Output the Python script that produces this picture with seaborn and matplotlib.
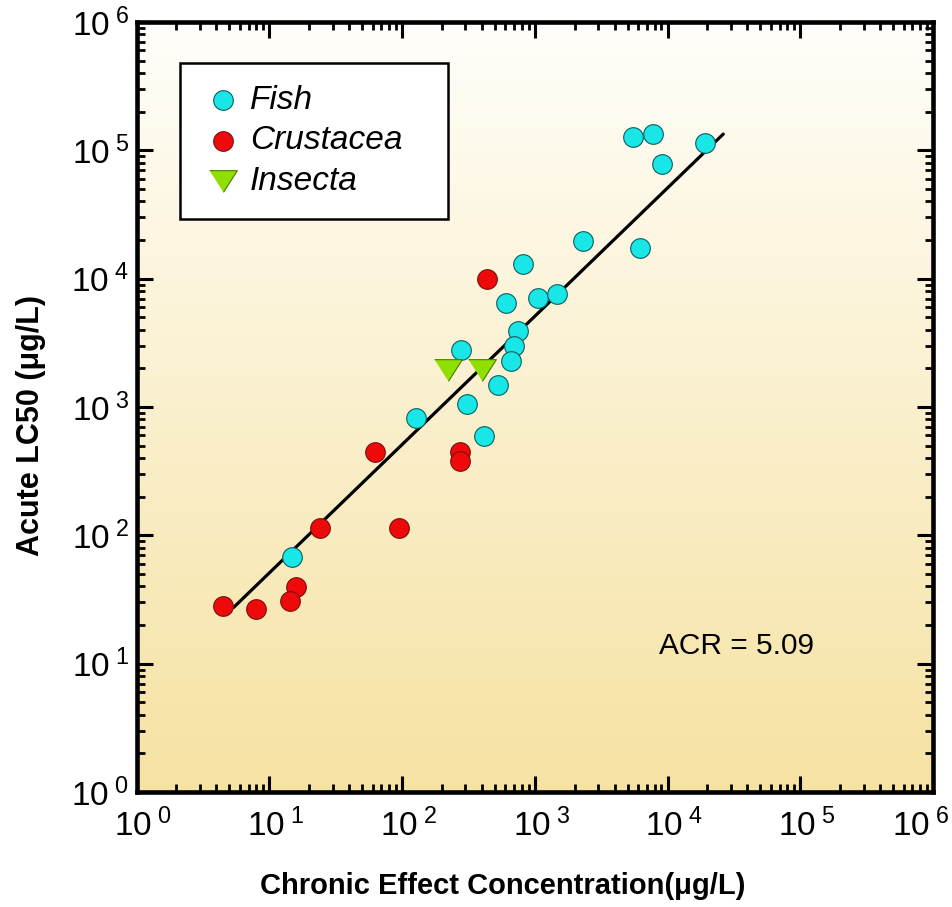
import numpy as np
import pandas as pd
import matplotlib
matplotlib.use("Agg")
import matplotlib.pyplot as plt
from matplotlib.ticker import FixedLocator, NullFormatter, FuncFormatter
from matplotlib.transforms import ScaledTranslation
import seaborn as sns

# ---------------- data ----------------
fish_x = [5525, 7820, 19270, 9140, 2322, 6240, 820, 611, 1064, 1480,
          753, 702, 666, 280, 532, 311, 128, 417, 14.9]
fish_y = [126000, 133000, 113500, 77800, 19500, 17200, 13100, 6410, 7130, 7530,
          3945, 3013, 2300, 2805, 1496, 1063, 827, 598, 68]

crus_x = [440, 275, 275, 63, 24.3, 95.6, 16.0, 14.4, 4.52, 8.0]
crus_y = [9860, 449, 382, 449, 115, 115, 39.7, 30.9, 28.2, 26.8]

insect_x = [224, 403]
insect_y = [1930, 1930]

acr = 5.09
line_x = [5.38, 26300]

groups = ["Fish", "Crustacea", "Insecta"]
x_label = "Chronic Effect Concentration(\u03bcg/L)"
y_label = "Acute LC50 (\u03bcg/L)"
acr_text = "ACR = 5.09"
decades = [0, 1, 2, 3, 4, 5, 6]

df = pd.concat([
    pd.DataFrame({"x": fish_x, "y": fish_y, "group": groups[0]}),
    pd.DataFrame({"x": crus_x, "y": crus_y, "group": groups[1]}),
    pd.DataFrame({"x": insect_x, "y": insect_y, "group": groups[2]}),
], ignore_index=True)
line_df = pd.DataFrame({"x": line_x, "y": [acr * v for v in line_x]})

# ---------------- style ----------------
sns.set_style("ticks")
plt.rcParams["font.family"] = ["Liberation Sans", "DejaVu Sans"]
plt.rcParams["mathtext.fontset"] = "custom"
plt.rcParams["mathtext.rm"] = "Liberation Sans"
plt.rcParams["mathtext.it"] = "Liberation Sans:italic"
plt.rcParams["mathtext.bf"] = "Liberation Sans:bold"
for k in ["text.color", "axes.labelcolor", "xtick.color", "ytick.color",
          "xtick.labelcolor", "ytick.labelcolor"]:
    plt.rcParams[k] = "black"

W, H = 952, 907
fig = plt.figure(figsize=(W / 100, H / 100), dpi=100)
fig.patch.set_facecolor("white")
L, R, T, B = 136.5, 933, 22, 792
ax = fig.add_axes([L / W, 1 - B / H, (R - L) / W, (B - T) / H])
ax.set_xscale("log")
ax.set_yscale("log")
ax.set_xlim(10.0 ** decades[0], 10.0 ** decades[-1])
ax.set_ylim(10.0 ** decades[0], 10.0 ** decades[-1])

# vertical gradient background
top_c = np.array([255, 254, 250]) / 255
bot_c = np.array([246, 226, 162]) / 255
t = np.linspace(0, 1, 256)[:, None]
grad = (top_c[None, :] * (1 - t) + bot_c[None, :] * t)[:, None, :]
ax.imshow(grad, extent=[0, 1, 0, 1], transform=ax.transAxes, aspect="auto",
          zorder=0, interpolation="bilinear")
ax.set_facecolor("none")

# regression line
sns.lineplot(data=line_df, x="x", y="y", ax=ax, color="black", linewidth=2.3,
             zorder=2, legend=False)

tri = [(-1, 0.78), (1, 0.78), (0, -0.78)]
styles = {
    "Fish": dict(color="#19e6e6", edgecolor="#0d5e5e", marker="o", s=200),
    "Crustacea": dict(color="#ee0a0a", edgecolor="#7a1010", marker="o", s=200),
    "Insecta": dict(color="#8fe000", edgecolor="#4a7a00", marker=tri, s=400),
}
for g in groups:
    st = styles[g]
    sub = df[df["group"] == g]
    sns.scatterplot(data=sub, x="x", y="y", ax=ax, color=st["color"],
                    edgecolor=st["edgecolor"], marker=st["marker"], s=st["s"],
                    linewidth=0.8, zorder=3, label=g, legend=False)

# axes formatting
for sp in ax.spines.values():
    sp.set_linewidth(3.3)
    sp.set_color("black")
    sp.set_visible(True)
    sp.set_zorder(5)

def fmt(v, p):
    return r"$\mathregular{10^{\ %d}}$" % int(round(np.log10(v)))

major = [10.0 ** d for d in decades]
minor = [m * 10.0 ** d for d in decades[:-1] for m in range(2, 10)]
for axis in (ax.xaxis, ax.yaxis):
    axis.set_major_locator(FixedLocator(major))
    axis.set_minor_locator(FixedLocator(minor))
    axis.set_minor_formatter(NullFormatter())
    axis.set_major_formatter(FuncFormatter(fmt))

ax.tick_params(which="major", direction="in", length=11.5, width=2.2,
               top=True, right=True, labelsize=24, color="black")
ax.tick_params(which="minor", direction="in", length=6, width=2.0,
               top=True, right=True, color="black")
ax.tick_params(axis="x", which="major", pad=12)
ax.tick_params(axis="y", which="major", pad=5)

ax.set_xlabel(x_label, fontsize=21, fontweight="bold")
ax.set_ylabel(y_label, fontsize=22, fontweight="bold")
ax.xaxis.set_label_coords((503 - L) / (R - L), (B - 872) / (B - T))
ax.yaxis.set_label_coords((46 - L) / (R - L), (B - 426) / (B - T))

ax.text((736 - L) / (R - L), (B - 646) / (B - T), acr_text, transform=ax.transAxes,
        fontsize=21.5, ha="center", va="center", zorder=4)

leg = ax.legend(loc="upper left",
                bbox_to_anchor=((180 - L) / (R - L), (B - 63) / (B - T),
                                (448 - 180) / (R - L), 0),
                mode="expand", frameon=True, fancybox=False, shadow=False,
                prop={"style": "italic", "size": 24}, borderpad=0.65,
                labelspacing=0.29, handlelength=1.3, handletextpad=0.15,
                borderaxespad=0, scatterpoints=1)
leg.get_frame().set_edgecolor("black")
leg.get_frame().set_linewidth(1.8)
leg.get_frame().set_facecolor("white")
leg.get_frame().set_alpha(1)
leg.set_zorder(6)

# shift x tick labels so the "10" sits on the tick (superscript hangs right)
fig.canvas.draw()
for tk in ax.xaxis.get_major_ticks():
    lbl = tk.label1
    v = tk.get_loc()
    dx = 7 if v < 5e5 else -12
    lbl.set_transform(lbl.get_transform() + ScaledTranslation(dx / 100, 0, fig.dpi_scale_trans))

fig.savefig("out.png", dpi=100)
